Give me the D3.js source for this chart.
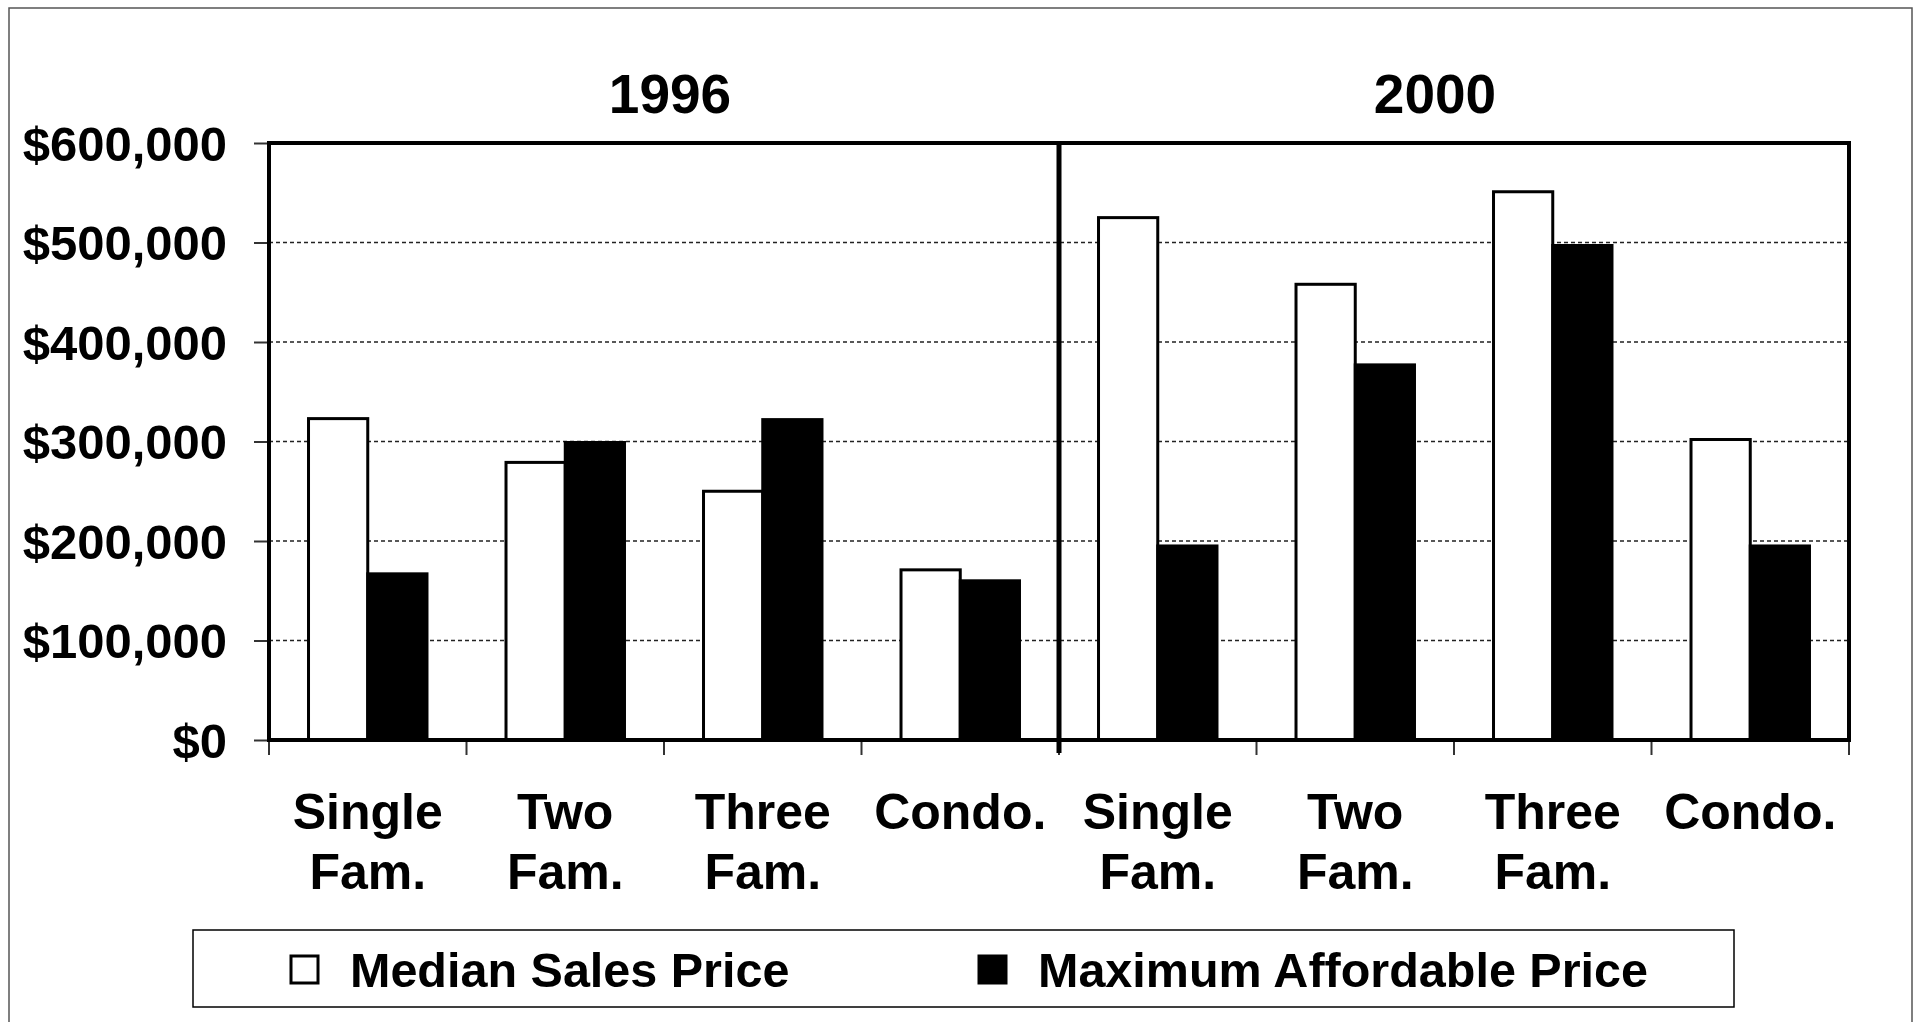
<!DOCTYPE html>
<html>
<head>
<meta charset="utf-8">
<script src="https://cdn.jsdelivr.net/npm/d3@7"></script>
<style>
  body { margin: 0; background: #fff; }
  svg { display: block; }
  text { font-family: "Liberation Sans", Arial, sans-serif; font-weight: bold; fill: #000; }
</style>
</head>
<body>
<div class="chart"></div>
<script>
// data
const years = ["1996", "2000"];
const categories = ["Single Fam.", "Two Fam.", "Three Fam.", "Condo."];
const categoryLines = [["Single", "Fam."], ["Two", "Fam."], ["Three", "Fam."], ["Condo."]];
const seriesNames = ["Median Sales Price", "Maximum Affordable Price"];
const median1996 = [323000, 279000, 250000, 171000];
const maxAfford1996 = [167000, 299000, 322000, 160000];
const median2000 = [525000, 458000, 551000, 302000];
const maxAfford2000 = [195000, 377000, 497000, 195000];
const yTicks = [0, 100000, 200000, 300000, 400000, 500000, 600000];

const seriesByYear = {
  "1996": [median1996, maxAfford1996],
  "2000": [median2000, maxAfford2000]
};

// flatten to one row per year/category/series
let data = [];
years.forEach(yr => {
  categories.forEach((cat, i) => {
    seriesNames.forEach((s, j) => {
      data.push({ year: yr, cat: cat, key: yr + "|" + cat, series: s, value: seriesByYear[yr][j][i] });
    });
  });
});

const W = 1918, H = 1022;
const margin = { top: 143, right: 69, bottom: 282, left: 269 };
const plotR = W - margin.right, plotB = H - margin.bottom;

const svg = d3.select(".chart").append("svg")
  .attr("width", W)
  .attr("height", H);

// outer frame of the scanned page
svg.append("rect")
  .attr("x", 9).attr("y", 8)
  .attr("width", 1903).attr("height", 1040)
  .attr("fill", "none")
  .attr("stroke", "#555")
  .attr("stroke-width", 1.5);

const keys = [];
years.forEach(yr => categories.forEach(c => keys.push(yr + "|" + c)));

const x = d3.scaleBand()
  .domain(keys)
  .range([margin.left, plotR])
  .padding(0);

const xs = d3.scaleBand()
  .domain(seriesNames)
  .range([0, x.bandwidth()])
  .paddingInner(0)
  .paddingOuter(0.667);

const y = d3.scaleLinear()
  .domain([0, 600000])
  .range([plotB, margin.top]);

// dashed gridlines
svg.append("g")
  .selectAll("line")
  .data(yTicks.filter(t => t > 0 && t < 600000))
  .join("line")
  .attr("x1", margin.left).attr("x2", plotR)
  .attr("y1", d => y(d)).attr("y2", d => y(d))
  .attr("stroke", "#222")
  .attr("stroke-width", 1.6)
  .attr("stroke-dasharray", "4,3");

// bars
svg.append("g")
  .selectAll("rect")
  .data(data)
  .join("rect")
  .attr("x", d => x(d.key) + xs(d.series))
  .attr("y", d => y(d.value))
  .attr("width", xs.bandwidth())
  .attr("height", d => y(0) - y(d.value))
  .attr("fill", d => d.series === seriesNames[0] ? "#fff" : "#000")
  .attr("stroke", "#000")
  .attr("stroke-width", 3);

// y axis
const fmt = d => "$" + d3.format(",")(d);
const yAxis = svg.append("g")
  .attr("transform", "translate(" + margin.left + ",0)")
  .call(d3.axisLeft(y).tickValues(yTicks).tickSize(15).tickPadding(27).tickFormat(fmt));
yAxis.select(".domain").remove();
yAxis.selectAll(".tick line").attr("stroke", "#333").attr("stroke-width", 2);
yAxis.selectAll(".tick text")
  .attr("font-size", 49)
  .attr("font-family", "'Liberation Sans', Arial, sans-serif")
  .attr("font-weight", "bold")
  .attr("fill", "#000")
  .attr("dy", "0.35em");

// category boundary ticks below the axis
const bounds = keys.map(k => x(k)).concat([plotR]);
svg.append("g")
  .selectAll("line")
  .data(bounds)
  .join("line")
  .attr("x1", d => d).attr("x2", d => d)
  .attr("y1", plotB).attr("y2", plotB + 15)
  .attr("stroke", "#333")
  .attr("stroke-width", 2);

// plot border and panel divider
svg.append("rect")
  .attr("x", margin.left).attr("y", margin.top)
  .attr("width", plotR - margin.left).attr("height", plotB - margin.top)
  .attr("fill", "none")
  .attr("stroke", "#000")
  .attr("stroke-width", 4);

const divX = x(years[1] + "|" + categories[0]);
svg.append("line")
  .attr("x1", divX).attr("x2", divX)
  .attr("y1", margin.top).attr("y2", plotB + 13)
  .attr("stroke", "#000")
  .attr("stroke-width", 5);

// category labels
const labels = svg.append("g")
  .attr("text-anchor", "middle")
  .attr("font-size", 50)
  .selectAll("text")
  .data(keys)
  .join("text")
  .attr("x", d => x(d) + x.bandwidth() / 2)
  .attr("y", 829);
labels.each(function (k) {
  const lines = categoryLines[categories.indexOf(k.split("|")[1])];
  d3.select(this).selectAll("tspan")
    .data(lines)
    .join("tspan")
    .attr("x", x(k) + x.bandwidth() / 2)
    .attr("dy", (d, i) => i === 0 ? 0 : 60)
    .text(d => d);
});

// year titles (sit a little off the panel centres in the original)
const titleShift = [6, -19];
svg.append("g")
  .attr("text-anchor", "middle")
  .attr("font-size", 55)
  .selectAll("text")
  .data(years)
  .join("text")
  .attr("x", (yr, i) => {
    const first = x(yr + "|" + categories[0]);
    const last = x(yr + "|" + categories[categories.length - 1]) + x.bandwidth();
    return (first + last) / 2 + titleShift[i];
  })
  .attr("y", 113)
  .text(d => d);

// legend
const legend = svg.append("g");
legend.append("rect")
  .attr("x", 193).attr("y", 930)
  .attr("width", 1541).attr("height", 77)
  .attr("fill", "#fff")
  .attr("stroke", "#000")
  .attr("stroke-width", 1.5);

const legendX = [291, 979];
const items = legend.selectAll(".item")
  .data(seriesNames)
  .join("g")
  .attr("class", "item")
  .attr("transform", (d, i) => "translate(" + legendX[i] + ",956)");
items.append("rect")
  .attr("width", 27).attr("height", 27)
  .attr("fill", (d, i) => i === 0 ? "#fff" : "#000")
  .attr("stroke", "#000")
  .attr("stroke-width", 3);
items.append("text")
  .attr("x", 59)
  .attr("y", 31)
  .attr("font-size", 48.5)
  .text(d => d);
</script>
</body>
</html>
